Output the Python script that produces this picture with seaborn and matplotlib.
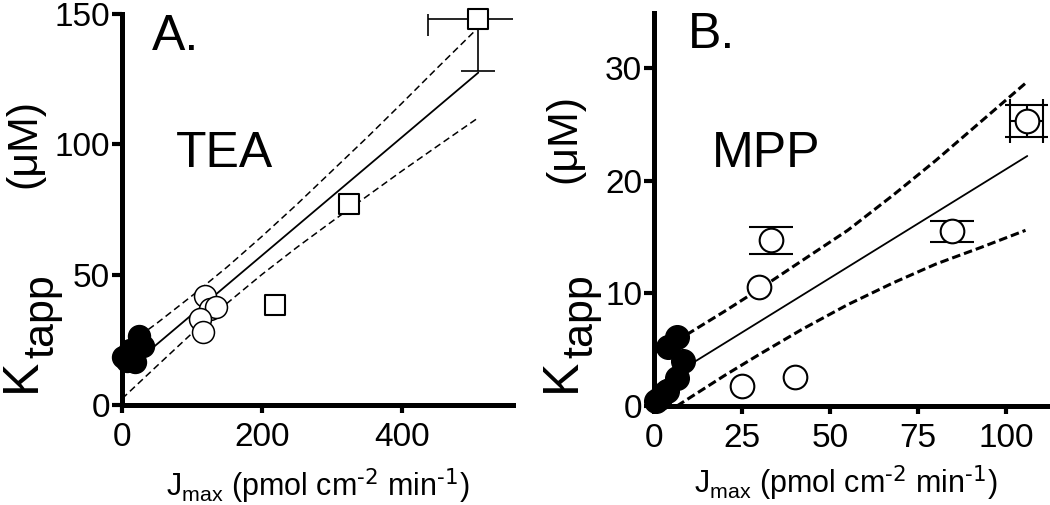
import numpy as np
import pandas as pd
import matplotlib
matplotlib.use("Agg")
import matplotlib.pyplot as plt
import seaborn as sns

# ---- Panel A (TEA) ----
tea_filled_x = [1, 7, 12, 19, 25, 30]
tea_filled_y = [18.5, 17, 21, 16.5, 26.5, 22.5]
tea_open_x = [119, 126, 134, 111, 116]
tea_open_y = [42, 37, 37.5, 33, 28]
tea_sq_x = [219, 324, 509]
tea_sq_y = [38.5, 77, 148]
tea_sq_xerr = [0, 0, 71.5]
tea_sq_yerr = [0, 0, 20]
tea_fit_x = [0, 509]
tea_fit_y = [12, 127.5]
tea_band_x = [0, 50, 100, 150, 200, 250, 300, 350, 400, 450, 509]
tea_band_hi = [21.6, 31.4, 41.9, 52.9, 64.7, 77.0, 89.8, 102.6, 115.8, 129.2, 144.8]
tea_band_lo = [2.4, 15.0, 27.5, 39.0, 50.1, 60.5, 70.4, 80.1, 89.8, 99.2, 110.2]

# ---- Panel B (MPP) ----
mpp_filled_x = [0.5, 1.7, 3.6, 6.4, 8.3, 4, 6.5]
mpp_filled_y = [0.4, 0.7, 1.3, 2.5, 4.0, 5.2, 6.1]
mpp_open_x = [24.9, 40, 29.8, 33.1, 84.6, 105.9]
mpp_open_y = [1.8, 2.6, 10.6, 14.7, 15.5, 25.3]
mpp_open_xerr = [0, 0, 0, 0, 0, 4.7]
mpp_open_yerr = [0, 0, 0, 1.2, 0.9, 1.45]
mpp_fit_x = [0, 106]
mpp_fit_y = [1.7, 22.2]
mpp_hi_x = [0, 7, 20, 30, 42, 55, 68, 80, 93, 106]
mpp_hi_y = [4.7, 5.9, 8.4, 10.4, 12.9, 15.6, 18.75, 21.8, 25.3, 28.8]
mpp_lo_x = [6.5, 20, 30, 42, 55, 68, 80, 93, 105.5]
mpp_lo_y = [0.0, 2.7, 4.6, 6.8, 9.0, 10.95, 12.6, 14.1, 15.6]

xlabel = r'J$_{\mathregular{max}}$ (pmol cm$^{\text{-2}}$ min$^{\text{-1}}$)'

sns.set_theme(style='ticks')
plt.rcParams['font.family'] = ['Liberation Sans', 'DejaVu Sans']
plt.rcParams['mathtext.default'] = 'regular'

W, H = 1050, 505
fig = plt.figure(figsize=(W / 100, H / 100), dpi=100)
fig.patch.set_facecolor('white')


def px_axes(left, top, right, bottom):
    return fig.add_axes([left / W, 1 - bottom / H, (right - left) / W, (bottom - top) / H])


def style_axes(ax, xticks, yticks, xlim, ylim):
    ax.set_xlim(*xlim)
    ax.set_ylim(*ylim)
    ax.set_xticks(xticks)
    ax.set_yticks(yticks)
    ax.set_facecolor('white')
    for s in ['top', 'right']:
        ax.spines[s].set_visible(False)
    for s in ['left', 'bottom']:
        ax.spines[s].set_linewidth(3.6)
        ax.spines[s].set_color('black')
    ax.tick_params(width=3, labelsize=24, direction='out', color='black', labelcolor='black')
    ax.tick_params(axis='x', length=5.5, pad=7)
    ax.tick_params(axis='y', length=7, pad=1.5)


def error_bars(ax, x, y, xerr, yerr, capsize, lw):
    x, y, xerr, yerr = map(np.asarray, (x, y, xerr, yerr))
    kw = dict(fmt='none', ecolor='black', elinewidth=lw, capsize=capsize, capthick=lw, zorder=2)
    iy = yerr > 0
    if iy.any():
        ax.errorbar(x[iy], y[iy], yerr=yerr[iy], **kw)
    ix = xerr > 0
    if ix.any():
        ax.errorbar(x[ix], y[ix], xerr=xerr[ix], **kw)


def ylabel_pieces(x_base, x_sub, y_k, y_sub, y_unit):
    kw = dict(rotation=90, rotation_mode='anchor', ha='left', va='baseline', color='black')
    fig.text(x_base / W, 1 - y_k / H, 'K', fontsize=36, **kw)
    fig.text(x_sub / W, 1 - y_sub / H, 'tapp', fontsize=31, **kw)
    fig.text(x_base / W, 1 - y_unit / H, '(\u03bcM)', fontsize=31, **kw)


# ---------- Panel A ----------
axA = px_axes(122, 14, 513, 405)
style_axes(axA, [0, 200, 400], [0, 50, 100, 150], (0, 558.6), (0, 150))

thin_dash = dict(color='black', lw=1.1, linestyle=(0, (4.5, 2.6)))
sns.lineplot(x=tea_band_x, y=tea_band_hi, ax=axA, sort=False, estimator=None, zorder=1, **thin_dash)
sns.lineplot(x=tea_band_x, y=tea_band_lo, ax=axA, sort=False, estimator=None, zorder=1, **thin_dash)
sns.lineplot(x=tea_fit_x, y=tea_fit_y, ax=axA, sort=False, estimator=None, zorder=1,
             color='black', lw=1.3)

error_bars(axA, tea_sq_x, tea_sq_y, tea_sq_xerr, tea_sq_yerr, capsize=12, lw=1.2)

sns.scatterplot(x=tea_open_x, y=tea_open_y, ax=axA, marker='o', s=250, color='white',
                edgecolor='black', linewidth=1.1, zorder=3, clip_on=False)
sns.scatterplot(x=tea_sq_x, y=tea_sq_y, ax=axA, marker='s', s=225, color='white',
                edgecolor='black', linewidth=1.5, zorder=3, clip_on=False)
sns.scatterplot(x=tea_filled_x, y=tea_filled_y, ax=axA, marker='o', s=250, color='black',
                edgecolor='black', linewidth=1.0, zorder=4, clip_on=False)

axA.set_xlabel(xlabel, fontsize=22, color='black')
axA.xaxis.set_label_coords(0.501, -0.233)
axA.xaxis.label.set_va('baseline')
axA.set_ylabel('')

fig.text(152 / W, 1 - 50 / H, 'A.', fontsize=36, va='baseline', color='black')
fig.text(176 / W, 1 - 167 / H, 'TEA', fontsize=36, va='baseline', color='black')
ylabel_pieces(35, 53, 392, 358, 188)

# ---------- Panel B ----------
axB = px_axes(654, 13, 1047, 406)
style_axes(axB, [0, 25, 50, 75, 100], [0, 10, 20, 30], (0, 111.6), (0, 34.9))

thick_dash = dict(color='black', lw=2.2, linestyle=(0, (2.8, 1.3)))
sns.lineplot(x=mpp_hi_x, y=mpp_hi_y, ax=axB, sort=False, estimator=None, zorder=1, **thick_dash)
sns.lineplot(x=mpp_lo_x, y=mpp_lo_y, ax=axB, sort=False, estimator=None, zorder=1, **thick_dash)
sns.lineplot(x=mpp_fit_x, y=mpp_fit_y, ax=axB, sort=False, estimator=None, zorder=1,
             color='black', lw=1.3)

error_bars(axB, mpp_open_x, mpp_open_y, mpp_open_xerr, mpp_open_yerr, capsize=16, lw=1.5)

sns.scatterplot(x=mpp_open_x, y=mpp_open_y, ax=axB, marker='o', s=290, color='white',
                edgecolor='black', linewidth=1.5, zorder=3, clip_on=False)
sns.scatterplot(x=mpp_filled_x, y=mpp_filled_y, ax=axB, marker='o', s=290, color='black',
                edgecolor='black', linewidth=1.0, zorder=4, clip_on=False)

axB.set_xlabel(xlabel, fontsize=22, color='black')
axB.xaxis.set_label_coords(0.4885, -0.2217)
axB.xaxis.label.set_va('baseline')
axB.set_ylabel('')

fig.text(688 / W, 1 - 48 / H, 'B.', fontsize=36, va='baseline', color='black')
fig.text(712 / W, 1 - 167 / H, 'MPP', fontsize=36, va='baseline', color='black')
ylabel_pieces(575, 592, 392, 358, 183)

fig.savefig('out.png', dpi=100, facecolor='white')
